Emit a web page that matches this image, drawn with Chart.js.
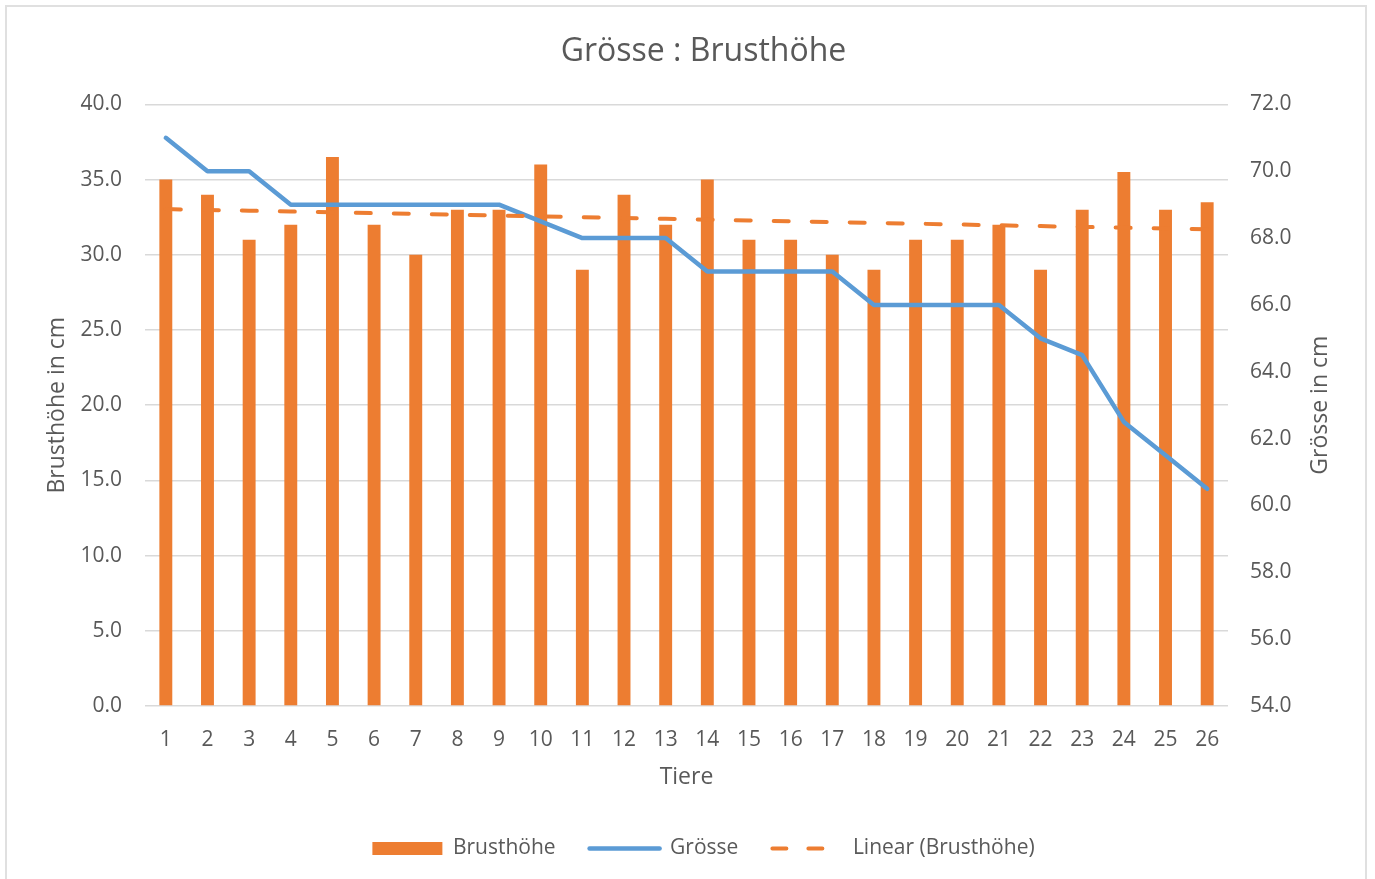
<!DOCTYPE html>
<html>
<head>
<meta charset="utf-8">
<script src="https://cdn.jsdelivr.net/npm/chart.js@4.4.0/dist/chart.umd.min.js"></script>
<style>
  html, body { margin: 0; padding: 0; background: #fff; overflow: hidden; }
  #frame { position: absolute; left: 5px; top: 5px; width: 1362px; height: 900px; border: 2px solid #e0e0e0; box-sizing: border-box; }
  #wrap { position: absolute; left: 7px; top: 7px; width: 1360px; height: 872px; }
</style>
</head>
<body>
<div id="frame"></div>
<div id="wrap"><canvas id="chart" width="1360" height="872"></canvas></div>
<script>
// Data
const tiere = ['1','2','3','4','5','6','7','8','9','10','11','12','13','14','15','16','17','18','19','20','21','22','23','24','25','26'];
const brusthoehe = [35, 34, 31, 32, 36.5, 32, 30, 33, 33, 36, 29, 34, 32, 35, 31, 31, 30, 29, 31, 31, 32, 29, 33, 35.5, 33, 33.5];
const groesse = [71, 70, 70, 69, 69, 69, 69, 69, 69, 68.5, 68, 68, 68, 67, 67, 67, 67, 66, 66, 66, 66, 65, 64.5, 62.5, 61.5, 60.5];

// Axis ranges
const leftAxis = { min: 0, max: 40, step: 5 };
const rightAxis = { min: 54, max: 72, step: 2 };

const textColor = '#595959';
const gridColor = '#d9d9d9';
const orange = '#ED7D31';
const blue = '#5B9BD5';

/**
 * Least squares trend line (like Excel "Linear" trendline)
 */
function linearTrend(values) {
    const n = values.length;
    let sx = 0, sy = 0, sxx = 0, sxy = 0;
    values.forEach((y, i) => {
        const x = i + 1;
        sx += x; sy += y; sxx += x * x; sxy += x * y;
    });
    const slope = (n * sxy - sx * sy) / (n * sxx - sx * sx);
    const icpt = (sy - slope * sx) / n;
    return values.map((_, i) => icpt + slope * (i + 1));
}

const trend = linearTrend(brusthoehe);

Chart.defaults.font.family = "'Open Sans', sans-serif";
Chart.defaults.font.size = 21;
Chart.defaults.color = textColor;

// Right axis title reads bottom-to-top like the left one
const rightTitle = {
    id: 'rightTitle',
    afterDraw(chart) {
        const ctx = chart.ctx;
        const area = chart.chartArea;
        ctx.save();
        ctx.translate(chart.scales.y1.right - 47, (area.top + area.bottom) / 2);
        ctx.rotate(-Math.PI / 2);
        ctx.font = "23px 'Open Sans', sans-serif";
        ctx.fillStyle = textColor;
        ctx.textAlign = 'center';
        ctx.textBaseline = 'middle';
        ctx.fillText('Grösse in cm', 0, 0);
        ctx.restore();
    }
};

const ctx = document.getElementById('chart').getContext('2d');
new Chart(ctx, {
    type: 'bar',
    data: {
        labels: tiere,
        datasets: [
            {
                type: 'bar',
                label: 'Brusthöhe',
                data: brusthoehe,
                backgroundColor: orange,
                yAxisID: 'y',
                barPercentage: 0.31,
                categoryPercentage: 1,
                order: 3
            },
            {
                type: 'line',
                label: 'Grösse',
                data: groesse,
                borderColor: blue,
                backgroundColor: blue,
                borderWidth: 4.5,
                pointRadius: 0,
                tension: 0,
                borderCapStyle: 'round',
                borderJoinStyle: 'round',
                yAxisID: 'y1',
                order: 2
            },
            {
                type: 'line',
                label: 'Linear (Brusthöhe)',
                data: trend,
                borderColor: orange,
                backgroundColor: orange,
                borderWidth: 4,
                borderDash: [15, 23],
                borderCapStyle: 'round',
                pointRadius: 0,
                tension: 0,
                yAxisID: 'y',
                order: 1
            }
        ]
    },
    options: {
        responsive: false,
        animation: false,
        layout: { padding: { top: 18, left: 33, right: 0, bottom: 10 } },
        plugins: {
            title: {
                display: true,
                text: 'Grösse : Brusthöhe',
                color: textColor,
                font: { size: 32, weight: 'normal' },
                padding: { top: 8, bottom: 33 }
            },
            legend: {
                position: 'bottom',
                labels: {
                    color: textColor,
                    font: { size: 21 },
                    usePointStyle: true,
                    pointStyleWidth: 70,
                    boxHeight: 13,
                    padding: 34,
                    sort: (a, b) => a.datasetIndex - b.datasetIndex,
                    generateLabels(chart) {
                        return chart.data.datasets.map((ds, i) => {
                            const isBar = ds.type === 'bar';
                            return {
                                text: ds.label,
                                datasetIndex: i,
                                fillStyle: isBar ? orange : 'rgba(0,0,0,0)',
                                strokeStyle: ds.borderColor || orange,
                                lineWidth: isBar ? 0 : ds.borderWidth,
                                lineDash: ds.borderDash ? [14, 22] : [],
                                lineCap: 'round',
                                pointStyle: isBar ? 'rect' : 'line',
                                fontColor: textColor,
                                hidden: false
                            };
                        });
                    }
                }
            },
            tooltip: { enabled: false }
        },
        scales: {
            x: {
                grid: { display: false },
                border: { display: false },
                ticks: { color: textColor, padding: 13, maxRotation: 0, autoSkip: false },
                title: {
                    display: true,
                    text: 'Tiere',
                    color: textColor,
                    font: { size: 23 },
                    padding: { top: 10, bottom: 13 }
                },
                afterFit(scale) { scale.height = 98; }
            },
            y: {
                position: 'left',
                min: leftAxis.min,
                max: leftAxis.max,
                grid: { color: gridColor, lineWidth: 1.5, drawTicks: false },
                border: { display: false },
                ticks: {
                    stepSize: leftAxis.step,
                    padding: 23,
                    color: textColor,
                    callback: v => v.toFixed(1)
                },
                title: {
                    display: true,
                    text: 'Brusthöhe in cm',
                    color: textColor,
                    font: { size: 23 },
                    padding: { top: 4, bottom: 4 }
                },
                afterFit(scale) { scale.width = 105; }
            },
            y1: {
                position: 'right',
                min: rightAxis.min,
                max: rightAxis.max,
                grid: { display: false, drawTicks: false },
                border: { display: false },
                ticks: {
                    stepSize: rightAxis.step,
                    padding: 22,
                    color: textColor,
                    callback: v => v.toFixed(1)
                },
                afterFit(scale) { scale.width = 139; }
            }
        }
    },
    plugins: [rightTitle]
});
</script>
</body>
</html>
